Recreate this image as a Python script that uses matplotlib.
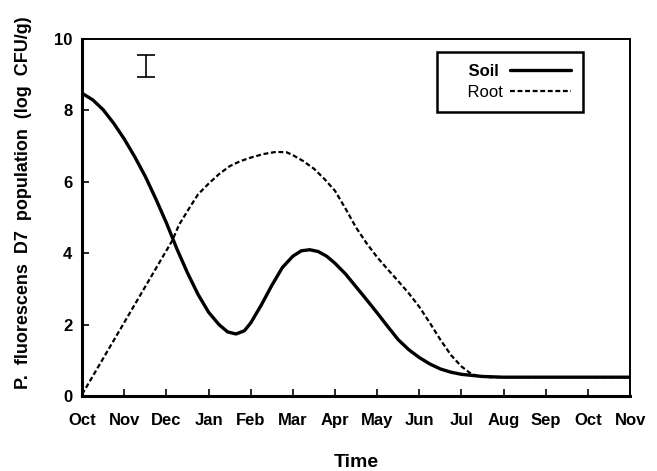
import matplotlib
matplotlib.use("Agg")
import matplotlib.pyplot as plt

plt.rcParams['font.family'] = ['Liberation Sans', 'DejaVu Sans']

months = ["Oct", "Nov", "Dec", "Jan", "Feb", "Mar", "Apr", "May", "Jun",
          "Jul", "Aug", "Sep", "Oct", "Nov"]

soil_t = [0, 0.25, 0.5, 0.75, 1.0, 1.25, 1.5, 1.75, 2.0, 2.25, 2.5, 2.75, 3.0,
          3.25, 3.45, 3.65, 3.85, 4.0, 4.25, 4.5, 4.75, 5.0, 5.2, 5.4, 5.6, 5.8,
          6.0, 6.25, 6.5, 6.75, 7.0, 7.25, 7.5, 7.75, 8.0, 8.25, 8.5, 8.75,
          9.0, 9.5, 10.0, 13.0]
soil_v = [8.48, 8.3, 8.02, 7.64, 7.2, 6.7, 6.15, 5.52, 4.85, 4.12, 3.45, 2.85,
          2.35, 2.0, 1.8, 1.74, 1.83, 2.05, 2.55, 3.1, 3.6, 3.92, 4.07, 4.1,
          4.05, 3.92, 3.72, 3.42, 3.06, 2.7, 2.33, 1.95, 1.58, 1.3, 1.08, 0.9,
          0.76, 0.67, 0.61, 0.55, 0.53, 0.53]

root_t = [0, 2.14, 2.3, 2.55, 2.75, 3.0, 3.25, 3.5, 3.75, 4.0, 4.3, 4.6, 4.85,
          5.0, 5.25, 5.5, 5.75, 6.0, 6.25, 6.5, 6.75, 7.0, 7.25, 7.5, 7.75,
          8.0, 8.25, 8.5, 8.75, 9.0, 9.2, 9.4, 9.7, 13.0]
root_v = [0.05, 4.36, 4.8, 5.28, 5.65, 5.95, 6.22, 6.44, 6.58, 6.68, 6.78,
          6.84, 6.83, 6.75, 6.58, 6.37, 6.08, 5.75, 5.25, 4.72, 4.28, 3.89,
          3.55, 3.22, 2.88, 2.5, 2.05, 1.58, 1.15, 0.83, 0.65, 0.55, 0.53,
          0.53]

err_t = [1.52]
err_v = [9.25]
err_e = [0.3]

fig = plt.figure(figsize=(6.57, 4.71), dpi=100)
ax = fig.add_axes([0.125, 0.159, 0.834, 0.758])

ax.plot(soil_t, soil_v, color='black', lw=2.4, label='    Soil ',
        solid_joinstyle='round', solid_capstyle='round')
ax.plot(root_t, root_v, color='black', lw=1.6, ls=(0, (2.2, 1.2)),
        label='    Root')
ax.errorbar(err_t, err_v, yerr=err_e, fmt='none', ecolor='black',
            elinewidth=1.2, capsize=6.5, capthick=1.2)

ax.set_xlim(0, 13)
ax.set_ylim(0, 10)
ax.set_xticks(range(len(months)))
ax.set_xticklabels(months)
ax.set_yticks([0, 2, 4, 6, 8, 10])
ax.tick_params(direction='in', length=5, width=1.2, top=False, right=False,
               labelsize=12)
ax.tick_params(axis='x', pad=12)
ax.tick_params(axis='y', pad=7)
for lab in ax.get_xticklabels() + ax.get_yticklabels():
    lab.set_fontweight('bold')

for side in ['left', 'bottom']:
    ax.spines[side].set_linewidth(2.2)
for side in ['top', 'right']:
    ax.spines[side].set_linewidth(1.4)

ax.set_xlabel('Time', fontsize=14, fontweight='bold', labelpad=19)
fig.text(24 / 657, 1 - 203 / 471,
         'P.  fluorescens  D7  population  (log  CFU/g)',
         rotation=90, ha='center', va='center', fontsize=13,
         fontweight='bold')

leg = ax.legend(loc='upper right', bbox_to_anchor=(0.914, 0.964),
                markerfirst=False, fancybox=False, edgecolor='black',
                fontsize=12, handlelength=3.7, borderpad=0.7,
                labelspacing=0.4, handletextpad=0.4, borderaxespad=0,
                framealpha=1)
leg.get_frame().set_linewidth(1.8)
leg.get_texts()[0].set_fontweight('bold')

fig.savefig('out.png', dpi=100)
